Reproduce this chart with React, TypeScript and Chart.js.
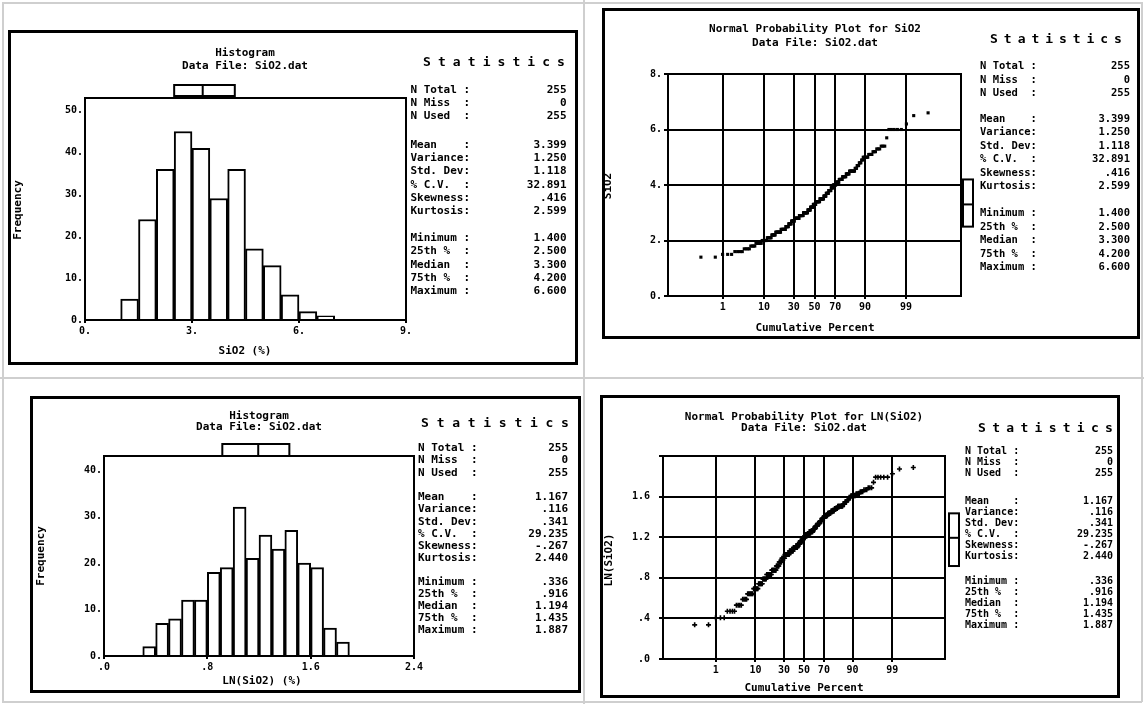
import React, { useEffect, useRef } from "react";
import { Chart, registerables } from "chart.js";
Chart.register(...registerables);

const FONT = '"DejaVu Sans Mono", monospace';

// ---- data: SiO2 sample as a frequency table (value -> count)
const sio2Values = [1.4, 1.5, 1.6, 1.7, 1.8, 1.9, 2.0, 2.1, 2.2, 2.3, 2.4, 2.5, 2.6, 2.7, 2.8, 2.9, 3.0, 3.1, 3.2, 3.3, 3.4, 3.5, 3.6, 3.7, 3.8, 3.9, 4.0, 4.1, 4.2, 4.3, 4.4, 4.5, 4.6, 4.7, 4.8, 4.9, 5.0, 5.1, 5.2, 5.3, 5.4, 5.7, 6.0, 6.2, 6.5, 6.6];
const sio2Counts = [2, 3, 4, 4, 4, 6, 6, 6, 6, 9, 9, 6, 6, 7, 11, 10, 11, 7, 7, 7, 10, 10, 6, 6, 6, 5, 6, 7, 7, 7, 6, 9, 3, 3, 3, 2, 6, 4, 3, 3, 3, 1, 5, 1, 1, 1];

// ---- histogram of SiO2 (bins of 0.5)
const hist1Centers = [1.25, 1.75, 2.25, 2.75, 3.25, 3.75, 4.25, 4.75, 5.25, 5.75, 6.25, 6.75];
const hist1Counts = [5, 24, 36, 45, 41, 29, 36, 17, 13, 6, 2, 1];
const hist1XTicks = [0, 3, 6, 9];
const hist1XLabels = ["0.", "3.", "6.", "9."];
const hist1YTicks = [0, 10, 20, 30, 40, 50];
const hist1YLabels = ["0.", "10.", "20.", "30.", "40.", "50."];

// ---- histogram of LN(SiO2) (bins of 0.1)
const hist3Centers = [0.35, 0.45, 0.55, 0.65, 0.75, 0.85, 0.95, 1.05, 1.15, 1.25, 1.35, 1.45, 1.55, 1.65, 1.75, 1.85];
const hist3Counts = [2, 7, 8, 12, 12, 18, 19, 32, 21, 26, 23, 27, 20, 19, 6, 3];
const hist3XTicks = [0, 0.8, 1.6, 2.4];
const hist3XLabels = [".0", ".8", "1.6", "2.4"];
const hist3YTicks = [0, 10, 20, 30, 40];
const hist3YLabels = ["0.", "10.", "20.", "30.", "40."];

// ---- normal probability plots
const probPercents = [1, 10, 30, 50, 70, 90, 99];
const probXLabels = ["1", "10", "30", "50", "70", "90", "99"];
const prob2YTicks = [0, 2, 4, 6, 8];
const prob2YLabels = ["0.", "2.", "4.", "6.", "8."];
const prob4YTicks = [0, 0.4, 0.8, 1.2, 1.6, 2.0];
const prob4YLabels = [".0", ".4", ".8", "1.2", "1.6", ""];

// ---- statistics
const statLabels = [
  ["N Total :", "N Miss  :", "N Used  :"],
  ["Mean    :", "Variance:", "Std. Dev:", "% C.V.  :", "Skewness:", "Kurtosis:"],
  ["Minimum :", "25th %  :", "Median  :", "75th %  :", "Maximum :"],
];
const sio2Stats = [
  ["255", "0", "255"],
  ["3.399", "1.250", "1.118", "32.891", ".416", "2.599"],
  ["1.400", "2.500", "3.300", "4.200", "6.600"],
];
const lnStats = [
  ["255", "0", "255"],
  ["1.167", ".116", ".341", "29.235", "-.267", "2.440"],
  [".336", ".916", "1.194", "1.435", "1.887"],
];
const sio2Quartiles = [2.5, 3.3, 4.2];
const lnQuartiles = [0.916, 1.194, 1.435];

function invNorm(p: number): number {
  const a = [-3.969683028665376e1, 2.209460984245205e2, -2.759285104469687e2, 1.38357751867269e2, -3.066479806614716e1, 2.506628277459239];
  const b = [-5.447609879822406e1, 1.615858368580409e2, -1.556989798598866e2, 6.680131188771972e1, -1.328068155288572e1];
  const c = [-7.784894002430293e-3, -3.223964580411365e-1, -2.400758277161838, -2.549732539343734, 4.374664141464968, 2.938163982698783];
  const d = [7.784695709041462e-3, 3.224671290700398e-1, 2.445134137142996, 3.754408661907416];
  const pl = 0.02425;
  let q: number, r: number;
  if (p < pl) {
    q = Math.sqrt(-2 * Math.log(p));
    return (((((c[0] * q + c[1]) * q + c[2]) * q + c[3]) * q + c[4]) * q + c[5]) / ((((d[0] * q + d[1]) * q + d[2]) * q + d[3]) * q + 1);
  }
  if (p <= 1 - pl) {
    q = p - 0.5;
    r = q * q;
    return ((((((a[0] * r + a[1]) * r + a[2]) * r + a[3]) * r + a[4]) * r + a[5]) * q) / (((((b[0] * r + b[1]) * r + b[2]) * r + b[3]) * r + b[4]) * r + 1);
  }
  q = Math.sqrt(-2 * Math.log(1 - p));
  return -(((((c[0] * q + c[1]) * q + c[2]) * q + c[3]) * q + c[4]) * q + c[5]) / ((((d[0] * q + d[1]) * q + d[2]) * q + d[3]) * q + 1);
}

function probPoints(values: number[], counts: number[], tf: (v: number) => number) {
  const n = counts.reduce((s, v) => s + v, 0);
  const pts: { x: number; y: number }[] = [];
  let i = 0;
  values.forEach((v, k) => {
    for (let j = 0; j < counts[k]; j++) {
      i++;
      pts.push({ x: invNorm((i - 0.5) / n), y: tf(v) });
    }
  });
  return pts;
}

type Panel = {
  kind: "hist" | "prob";
  box: number[];
  area: number[];
  xr: number[];
  yr: number[];
  xTicks: number[];
  xLabels: string[];
  yTicks: number[];
  yLabels: string[];
  yPad: number;
  yTickLen: number;
  title: string[];
  titleX: number;
  titleYs: number[];
  xTitle: string;
  xTitlePos: number[];
  yTitle: string;
  yTitlePos: number[];
  head: number[];
  labelX: number;
  valueX: number;
  groupY: number[];
  sp: number;
  sfont: number;
  stats: string[][];
  quart: number[];
  bp: number[];
  hist?: { centers: number[]; counts: number[] };
  pts?: { x: number; y: number }[];
  pointStyle?: string;
};

const Z = 3.72;
const probZTicks = probPercents.map((p) => invNorm(p / 100));

const panels: Panel[] = [
  {
    kind: "hist",
    box: [8, 30, 570, 335],
    area: [85, 98, 406, 320],
    xr: [0, 9],
    yr: [0, 53],
    xTicks: hist1XTicks,
    xLabels: hist1XLabels,
    yTicks: hist1YTicks,
    yLabels: hist1YLabels,
    yPad: 2,
    yTickLen: 0,
    title: ["Histogram", "Data File: SiO2.dat"],
    titleX: 245,
    titleYs: [53, 66.5],
    xTitle: "SiO2 (%)",
    xTitlePos: [245, 351.5],
    yTitle: "Frequency",
    yTitlePos: [18, 210],
    head: [423, 565, 63],
    labelX: 410.5,
    valueX: 566.5,
    groupY: [90, 145, 238.3],
    sp: 13.3,
    sfont: 11,
    stats: sio2Stats,
    quart: sio2Quartiles,
    bp: [85, 96],
    hist: { centers: hist1Centers, counts: hist1Counts },
  },
  {
    kind: "prob",
    box: [602, 8, 538, 331],
    area: [668, 74, 961, 296],
    xr: [-Z, Z],
    yr: [0, 8],
    xTicks: probZTicks,
    xLabels: probXLabels,
    yTicks: prob2YTicks,
    yLabels: prob2YLabels,
    yPad: 2,
    yTickLen: 4,
    title: ["Normal Probability Plot for SiO2", "Data File: SiO2.dat"],
    titleX: 815,
    titleYs: [29.3, 42.7],
    xTitle: "Cumulative Percent",
    xTitlePos: [815, 328],
    yTitle: "SiO2",
    yTitlePos: [608, 186],
    head: [990, 1122, 40],
    labelX: 980,
    valueX: 1130,
    groupY: [66.7, 119, 213.3],
    sp: 13.5,
    sfont: 10.5,
    stats: sio2Stats,
    quart: sio2Quartiles,
    bp: [963, 973],
    pts: probPoints(sio2Values, sio2Counts, (v) => v),
    pointStyle: "rect",
  },
  {
    kind: "hist",
    box: [30, 396, 551, 297],
    area: [104, 456, 414, 656],
    xr: [0, 2.4],
    yr: [0, 43],
    xTicks: hist3XTicks,
    xLabels: hist3XLabels,
    yTicks: hist3YTicks,
    yLabels: hist3YLabels,
    yPad: 2,
    yTickLen: 0,
    title: ["Histogram", "Data File: SiO2.dat"],
    titleX: 259,
    titleYs: [416.5, 427.5],
    xTitle: "LN(SiO2) (%)",
    xTitlePos: [262, 681],
    yTitle: "Frequency",
    yTitlePos: [41, 556],
    head: [421, 569, 423.3],
    labelX: 418,
    valueX: 568,
    groupY: [448.3, 497.3, 581.7],
    sp: 12.2,
    sfont: 11,
    stats: lnStats,
    quart: lnQuartiles,
    bp: [444, 456],
    hist: { centers: hist3Centers, counts: hist3Counts },
  },
  {
    kind: "prob",
    box: [600, 395, 520, 303],
    area: [663, 456, 945, 659],
    xr: [-Z, Z],
    yr: [0, 2],
    xTicks: probZTicks,
    xLabels: probXLabels,
    yTicks: prob4YTicks,
    yLabels: prob4YLabels,
    yPad: 9,
    yTickLen: 4,
    title: ["Normal Probability Plot for LN(SiO2)", "Data File: SiO2.dat"],
    titleX: 804,
    titleYs: [416.7, 428.3],
    xTitle: "Cumulative Percent",
    xTitlePos: [804, 688],
    yTitle: "LN(SiO2)",
    yTitlePos: [609, 560],
    head: [978, 1113, 428.3],
    labelX: 965,
    valueX: 1113,
    groupY: [451.5, 501.7, 581.7],
    sp: 10.9,
    sfont: 10,
    stats: lnStats,
    quart: lnQuartiles,
    bp: [949, 959],
    pts: probPoints(sio2Values, sio2Counts, (v) => Math.log(v)),
    pointStyle: "cross",
  },
];

function drawDecor(chart: any, p: Panel, ox: number, oy: number) {
  const ctx: CanvasRenderingContext2D = chart.ctx;
  const ca = chart.chartArea;
  ctx.save();
  ctx.strokeStyle = "#000";
  ctx.lineWidth = 2;
  ctx.strokeRect(ca.left, ca.top, ca.right - ca.left, ca.bottom - ca.top);
  ctx.fillStyle = "#000";
  ctx.textBaseline = "middle";
  ctx.textAlign = "center";
  ctx.font = `bold 11px ${FONT}`;
  p.title.forEach((s, i) => ctx.fillText(s, p.titleX - ox, p.titleYs[i] - oy));
  ctx.fillText(p.xTitle, p.xTitlePos[0] - ox, p.xTitlePos[1] - oy);
  ctx.save();
  ctx.translate(p.yTitlePos[0] - ox, p.yTitlePos[1] - oy);
  ctx.rotate(-Math.PI / 2);
  ctx.fillText(p.yTitle, 0, 0);
  ctx.restore();

  // Statistics heading, spaced letters
  ctx.font = `bold 13px ${FONT}`;
  const letters = "Statistics".split("");
  const c0 = p.head[0] + 4 - ox;
  const c1 = p.head[1] - 4 - ox;
  letters.forEach((ch, i) => ctx.fillText(ch, c0 + ((c1 - c0) * i) / (letters.length - 1), p.head[2] - oy));

  ctx.font = `bold ${p.sfont}px ${FONT}`;
  statLabels.forEach((grp, g) => {
    grp.forEach((lab, i) => {
      const y = p.groupY[g] + i * p.sp - oy;
      ctx.textAlign = "left";
      ctx.fillText(lab, p.labelX - ox, y);
      ctx.textAlign = "right";
      ctx.fillText(p.stats[g][i], p.valueX - ox, y);
    });
  });

  // box plot marker
  ctx.lineWidth = 2;
  ctx.fillStyle = "#fff";
  if (p.kind === "hist") {
    const xs = chart.scales.x;
    const a = xs.getPixelForValue(p.quart[0]);
    const m = xs.getPixelForValue(p.quart[1]);
    const b = xs.getPixelForValue(p.quart[2]);
    const y0 = p.bp[0] - oy;
    const y1 = p.bp[1] - oy;
    ctx.fillRect(a, y0, b - a, y1 - y0);
    ctx.strokeRect(a, y0, b - a, y1 - y0);
    ctx.beginPath();
    ctx.moveTo(m, y0);
    ctx.lineTo(m, y1);
    ctx.stroke();
  } else {
    const ys = chart.scales.y;
    const a = ys.getPixelForValue(p.quart[0]);
    const m = ys.getPixelForValue(p.quart[1]);
    const b = ys.getPixelForValue(p.quart[2]);
    const x0 = p.bp[0] - ox;
    const x1 = p.bp[1] - ox;
    ctx.fillRect(x0, b, x1 - x0, a - b);
    ctx.strokeRect(x0, b, x1 - x0, a - b);
    ctx.beginPath();
    ctx.moveTo(x0, m);
    ctx.lineTo(x1, m);
    ctx.stroke();
  }
  ctx.restore();
}

function PanelChart({ p }: { p: Panel }) {
  const ref = useRef<HTMLCanvasElement>(null);
  const B = 3;
  const cx = p.box[0] + B;
  const cy = p.box[1] + B;
  const cw = p.box[2] - 2 * B;
  const ch = p.box[3] - 2 * B;
  useEffect(() => {
    const [l, t, r, b] = p.area;
    const xh = 22;
    const yw = l - cx;
    const padding = { left: 0, top: t - cy, right: cx + cw - r, bottom: cy + ch - b - xh };
    const tickFont = { family: FONT, size: 10, weight: "bold" as const };
    const decor = {
      id: "decor",
      afterDraw(chart: any) {
        drawDecor(chart, p, cx, cy);
      },
    };
    const isHist = p.kind === "hist";
    const data = isHist
      ? {
          datasets: [
            {
              data: p.hist!.centers.map((c, i) => ({ x: c, y: p.hist!.counts[i] })),
              backgroundColor: "#fff",
              borderColor: "#000",
              borderWidth: 2,
              barPercentage: 1,
              categoryPercentage: 1,
            },
          ],
        }
      : {
          datasets: [
            {
              data: p.pts!,
              pointStyle: p.pointStyle,
              pointRadius: p.pointStyle === "cross" ? 2.5 : 2.2,
              backgroundColor: "#000",
              borderColor: "#000",
              borderWidth: p.pointStyle === "cross" ? 1.6 : 0,
            },
          ],
        };
    const chart = new Chart(ref.current as HTMLCanvasElement, {
      type: (isHist ? "bar" : "scatter") as any,
      data: data as any,
      plugins: [decor],
      options: {
        animation: false,
        responsive: false,
        events: [],
        layout: { padding },
        plugins: { legend: { display: false }, tooltip: { enabled: false }, title: { display: false } },
        scales: {
          x: {
            type: "linear",
            min: p.xr[0],
            max: p.xr[1],
            offset: false,
            afterBuildTicks: (s: any) => {
              s.ticks = p.xTicks.map((v) => ({ value: v }));
            },
            afterFit: (s: any) => {
              s.height = xh;
            },
            ticks: {
              autoSkip: false,
              maxRotation: 0,
              minRotation: 0,
              padding: 2,
              color: "#000",
              font: tickFont,
              callback: (_v: any, i: number) => p.xLabels[i],
            },
            grid: {
              display: true,
              offset: false,
              drawOnChartArea: !isHist,
              drawTicks: true,
              tickLength: 3,
              color: "#000",
              lineWidth: 2,
            },
            border: { display: true, color: "#000", width: 2 },
          },
          y: {
            type: "linear",
            min: p.yr[0],
            max: p.yr[1],
            afterBuildTicks: (s: any) => {
              s.ticks = p.yTicks.map((v) => ({ value: v }));
            },
            afterFit: (s: any) => {
              s.width = yw;
            },
            ticks: {
              autoSkip: false,
              padding: p.yPad,
              color: "#000",
              font: tickFont,
              callback: (_v: any, i: number) => p.yLabels[i],
            },
            grid: {
              display: true,
              offset: false,
              drawOnChartArea: !isHist,
              drawTicks: p.yTickLen > 0,
              tickLength: p.yTickLen,
              color: "#000",
              lineWidth: 2,
            },
            border: { display: true, color: "#000", width: 2 },
          },
        },
      } as any,
    });
    return () => chart.destroy();
  }, []);
  return (
    <div
      style={{
        position: "absolute",
        left: p.box[0],
        top: p.box[1],
        width: p.box[2],
        height: p.box[3],
        boxSizing: "border-box",
        border: `${B}px solid #000`,
        background: "#fff",
      }}
    >
      <canvas ref={ref} width={cw} height={ch} style={{ width: cw, height: ch, display: "block" }} />
    </div>
  );
}

const gridLines = [
  { left: 2, top: 2, width: 1140, height: 2 },
  { left: 2, top: 2, width: 2, height: 700 },
  { left: 0, top: 377, width: 1144, height: 2 },
  { left: 583, top: 0, width: 2, height: 704 },
  { left: 2, top: 701, width: 1140, height: 2 },
  { left: 1141, top: 2, width: 2, height: 700 },
];

export default function App() {
  return (
    <div style={{ position: "fixed", left: 0, top: 0, width: 1144, height: 704, background: "#fff", overflow: "hidden" }}>
      {gridLines.map((g, i) => (
        <div key={i} style={{ position: "absolute", ...g, background: "#cfcfcf" }} />
      ))}
      {panels.map((p, i) => (
        <PanelChart key={i} p={p} />
      ))}
    </div>
  );
}
